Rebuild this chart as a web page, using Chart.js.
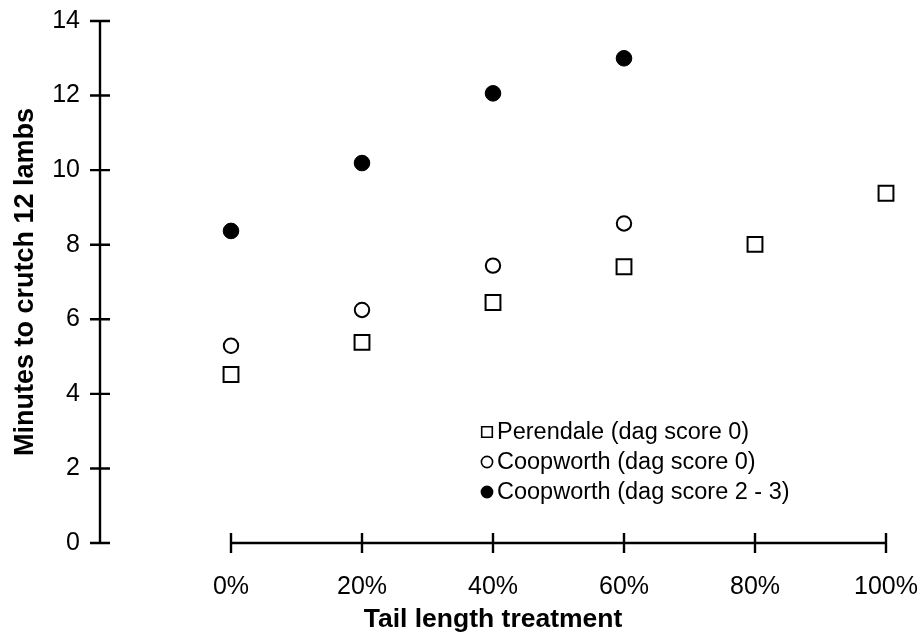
<!DOCTYPE html>
<html lang="en">
<head>
    <meta charset="UTF-8">
    <title>Minutes to crutch 12 lambs</title>
    <script src="https://cdn.jsdelivr.net/npm/chart.js"></script>
    <style>
        body {
            margin: 0;
            background: #fff;
        }

        canvas {
            display: block;
        }
    </style>
</head>
<body>

    <canvas id="grafica" width="920" height="638"></canvas>

<script>
        // categories on the x axis (index 0..5)
        const xLabels = ['0%', '20%', '40%', '60%', '80%', '100%'];
        const xIndex = [0, 1, 2, 3, 4, 5];

        // series values (minutes)
        const perendale0 = [4.52, 5.38, 6.45, 7.41, 8.01, 9.38];
        const coopworth0 = [5.29, 6.25, 7.44, 8.57];
        const coopworth23 = [8.37, 10.19, 12.06, 13.0];

        const yTicks = [0, 2, 4, 6, 8, 10, 12, 14];

        const seriesNames = [
            'Perendale (dag score 0)',
            'Coopworth (dag score 0)',
            'Coopworth (dag score 2 - 3)'
        ];

        function toPoints(values) {
            return values.map((v, i) => ({ x: xIndex[i], y: v }));
        }

        Chart.defaults.font.family = "Arial, 'Liberation Sans', Helvetica, sans-serif";
        Chart.defaults.color = '#000';

        // axis lines with ticks crossing them, like the original figure
        const crossAxes = {
            id: 'crossAxes',
            beforeDatasetsDraw(chart) {
                const ctx = chart.ctx;
                const xs = chart.scales.x;
                const ys = chart.scales.y;
                const x0 = xs.getPixelForValue(-1);
                const yBase = ys.getPixelForValue(0);
                ctx.save();
                ctx.strokeStyle = '#000';
                ctx.lineWidth = 2.4;
                ctx.beginPath();
                ctx.moveTo(x0, ys.getPixelForValue(yTicks[yTicks.length - 1]));
                ctx.lineTo(x0, yBase);
                yTicks.forEach(t => {
                    const py = ys.getPixelForValue(t);
                    ctx.moveTo(x0 - 10, py);
                    ctx.lineTo(x0 + 10, py);
                });
                ctx.moveTo(xs.getPixelForValue(xIndex[0]), yBase);
                ctx.lineTo(xs.getPixelForValue(xIndex[xIndex.length - 1]), yBase);
                xIndex.forEach(i => {
                    const px = xs.getPixelForValue(i);
                    ctx.moveTo(px, yBase - 10);
                    ctx.lineTo(px, yBase + 10);
                });
                ctx.stroke();
                ctx.restore();
            }
        };

        // legend inside the plot, bottom middle
        const innerLegend = {
            id: 'innerLegend',
            afterDraw(chart) {
                const ctx = chart.ctx;
                const left = 487;
                const top = 432;
                const step = 30;
                ctx.save();
                ctx.font = "23.5px Arial, 'Liberation Sans', Helvetica, sans-serif";
                ctx.textBaseline = 'middle';
                ctx.textAlign = 'left';
                chart.data.datasets.forEach((ds, i) => {
                    const y = top + i * step;
                    ctx.fillStyle = ds.backgroundColor;
                    ctx.strokeStyle = ds.borderColor;
                    ctx.lineWidth = 1.6;
                    Chart.helpers.drawPoint(ctx, {
                        pointStyle: ds.pointStyle,
                        radius: ds.pointStyle === 'rect' ? 7.5 : 5.6,
                        borderWidth: 1.6
                    }, left, y);
                    ctx.fillStyle = '#000';
                    ctx.fillText(ds.label, left + 10, y + 1);
                });
                ctx.restore();
            }
        };

        const ctx = document.getElementById('grafica').getContext('2d');
        const grafica = new Chart(ctx, {
            type: 'scatter',
            data: {
                datasets: [{
                    label: seriesNames[0],
                    data: toPoints(perendale0),
                    pointStyle: 'rect',
                    pointRadius: 10.5,
                    borderColor: '#000',
                    backgroundColor: '#fff',
                    borderWidth: 2,
                    clip: false
                }, {
                    label: seriesNames[1],
                    data: toPoints(coopworth0),
                    pointStyle: 'circle',
                    pointRadius: 7.2,
                    borderColor: '#000',
                    backgroundColor: '#fff',
                    borderWidth: 2,
                    clip: false
                }, {
                    label: seriesNames[2],
                    data: toPoints(coopworth23),
                    pointStyle: 'circle',
                    pointRadius: 7.8,
                    borderColor: '#000',
                    backgroundColor: '#000',
                    borderWidth: 1,
                    clip: false
                }]
            },
            options: {
                animation: false,
                responsive: false,
                layout: {
                    padding: { top: 21, right: 34, left: 0, bottom: 0 }
                },
                plugins: {
                    legend: { display: false },
                    tooltip: { enabled: false }
                },
                scales: {
                    x: {
                        type: 'linear',
                        min: -1,
                        max: 5,
                        afterFit: (scale) => {
                            scale.height = 95;
                            scale.paddingLeft = 0;
                            scale.paddingRight = 0;
                        },
                        afterBuildTicks: (scale) => {
                            scale.ticks = xIndex.map(v => ({ value: v }));
                        },
                        grid: { display: false, drawTicks: false },
                        border: { display: false },
                        ticks: {
                            padding: 29,
                            font: { size: 25 },
                            callback: (v) => xLabels[v] !== undefined ? xLabels[v] : ''
                        },
                        title: {
                            display: true,
                            text: 'Tail length treatment',
                            font: { size: 26.5, weight: 'bold' },
                            padding: { top: 0, bottom: 2 }
                        }
                    },
                    y: {
                        min: 0,
                        max: 14,
                        afterFit: (scale) => {
                            scale.width = 100;
                            scale.paddingTop = 0;
                            scale.paddingBottom = 0;
                        },
                        afterBuildTicks: (scale) => {
                            scale.ticks = yTicks.map(v => ({ value: v }));
                        },
                        grid: { display: false, drawTicks: false },
                        border: { display: false },
                        ticks: {
                            padding: 20,
                            font: { size: 25 }
                        },
                        title: {
                            display: true,
                            text: 'Minutes to crutch 12 lambs',
                            font: { size: 27, weight: 'bold' },
                            padding: { top: 9, bottom: 0 }
                        }
                    }
                }
            },
            plugins: [crossAxes, innerLegend]
        });
    </script>

</body>
</html>
